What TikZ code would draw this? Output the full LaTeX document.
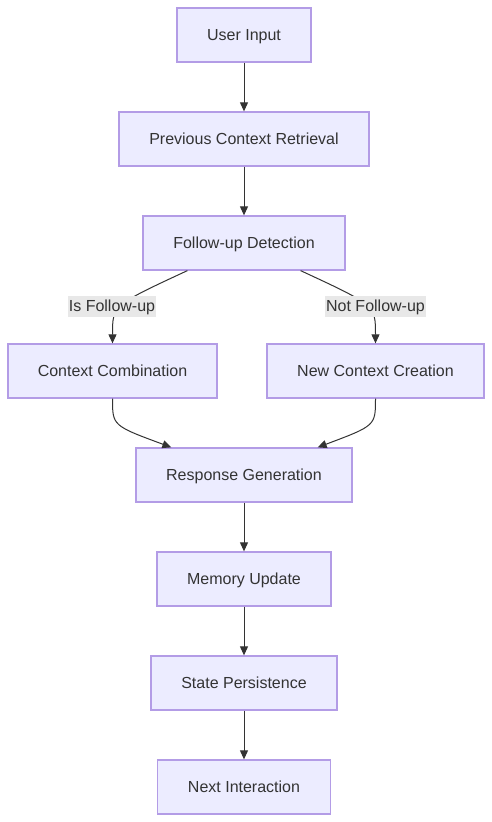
\documentclass[tikz,border=0pt]{standalone}
\usepackage{fontspec}
\setmainfont{Liberation Sans}
\usetikzlibrary{arrows.meta,calc}
\definecolor{boxfill}{HTML}{ECECFF}
\definecolor{boxline}{HTML}{B39CE6}
\definecolor{txt}{HTML}{333333}
\definecolor{lblbg}{HTML}{E8E8E8}
\tikzset{
  stepbox/.style={draw=boxline,fill=boxfill,line width=1.3pt,text=txt,minimum height=54pt,inner xsep=0pt,text height=13pt,text depth=3pt,font=\fontsize{16}{19}\selectfont},
  flow/.style={draw=txt,line width=1pt,-{Triangle[length=9pt,width=8pt]}},
  lbl/.style={fill=lblbg,text=txt,inner xsep=1pt,inner ysep=0pt,minimum height=21pt,text height=13pt,text depth=3pt,font=\fontsize{16}{19}\selectfont}
}
\begin{document}
\begin{tikzpicture}[x=1pt,y=-1pt]
\useasboundingbox (0,0) rectangle (492,822);
\node[stepbox,minimum width=134pt] (input) at (244,35) {User Input};
\node[stepbox,minimum width=250pt] (retr) at (244,139) {Previous Context Retrieval};
\node[stepbox,minimum width=202pt] (detect) at (244,243) {Follow-up Detection};
\node[stepbox,minimum width=209pt] (comb) at (112.5,371) {Context Combination};
\node[stepbox,minimum width=217pt] (newctx) at (375.5,371) {New Context Creation};
\node[stepbox,minimum width=216pt] (resp) at (244,475) {Response Generation};
\node[stepbox,minimum width=174pt] (mem) at (244,579) {Memory Update};
\node[stepbox,minimum width=186pt] (state) at (244,683) {State Persistence};
\node[stepbox,minimum width=173pt] (next) at (244,787) {Next Interaction};
\draw[flow] (input) -- (retr);
\draw[flow] (retr) -- (detect);
\draw[flow] ($(detect.south west)+(45,0)$) .. controls ($(comb.north)+(0,-38)$) .. (comb.north);
\draw[flow] ($(detect.south east)+(-45,0)$) .. controls ($(newctx.north)+(0,-38)$) .. (newctx.north);
\draw[flow] (comb.south) .. controls ($(comb.south)+(0,27)$) .. ($(resp.north west)+(36,0)$);
\draw[flow] (newctx.south) .. controls ($(newctx.south)+(0,27)$) .. ($(resp.north east)+(-35,0)$);
\draw[flow] (resp) -- (mem);
\draw[flow] (mem) -- (state);
\draw[flow] (state) -- (next);
\node[lbl] (isf) at (112,306.5) {Is Follow-up};
\node[lbl] (notf) at (375.5,306.5) {Not Follow-up};
\end{tikzpicture}
\end{document}
